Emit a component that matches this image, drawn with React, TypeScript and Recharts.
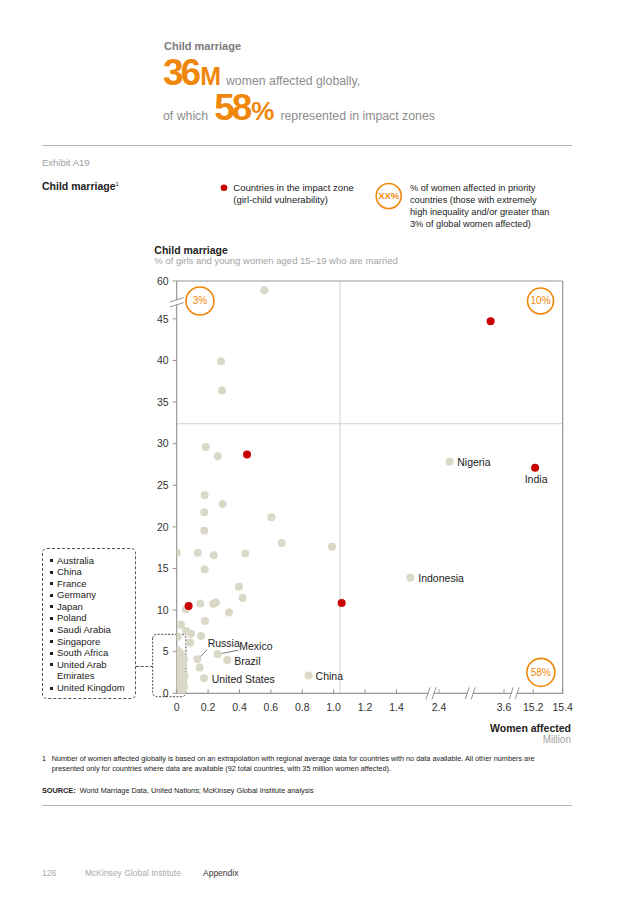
import React from "react";
import {
  ReferenceArea,
  ReferenceDot,
  ReferenceLine,
  Scatter,
  ScatterChart,
  XAxis,
  YAxis,
} from "recharts";

const ORANGE = "rgb(240, 135, 10)";
const RED = "rgb(200, 0, 0)";
const BEIGE = "rgb(218, 216, 198)";
const AXIS = "rgb(150, 150, 150)";
const FONT = '"Liberation Sans", Arial, Helvetica, sans-serif';

// countries outside the impact zone: women affected (million), % married
const OTHER_WOMEN = [
  0.558, 0.282, 0.289, 0.185, 0.261, 0.178, 0.293, 0.176, 0.603, 0.176,
  0.669, 0.989, 0.0, 0.134, 0.236, 0.437, 0.178, 0.397, 0.42, 0.15,
  0.233, 0.25, 0.059, 0.333, 0.027, 0.18, 0.059, 0.091, 0.006, 0.155,
  0.085, 0.131, 0.261, 0.322, 0.146, 0.174, 0.84, 2.468, 1.488,
  0.004, 0.018, 0.034, 0.008, 0.046, 0.024, 0.04, 0.006, 0.03, 0.014,
  0.05, 0.022, 0.042, 0.01, 0.032, 0.004, 0.026, 0.048, 0.016, 0.036,
];
const OTHER_RATE = [
  58.9, 39.9, 36.4, 29.6, 28.5, 23.8, 22.75, 21.75, 21.15, 19.55,
  18.06, 17.6, 16.9, 16.9, 16.6, 16.8, 14.9, 12.8, 11.45, 10.8,
  10.75, 10.9, 10.1, 9.7, 8.25, 8.7, 7.5, 7.15, 6.8, 6.9,
  6.1, 4.1, 4.7, 4.0, 3.1, 1.8, 2.15, 27.84, 13.9,
  5.2, 4.9, 4.6, 4.3, 4.1, 3.8, 3.4, 3.1, 2.7, 2.4,
  2.1, 1.8, 1.5, 1.2, 0.9, 0.6, 0.35, 0.8, 0.1, 0.2,
];
const OTHER_NAMES = [
  "", "", "", "", "", "", "", "", "", "",
  "", "", "", "", "", "", "", "", "", "",
  "", "", "", "", "", "", "", "", "", "",
  "", "Russia", "Mexico", "Brazil", "", "United States", "China", "Nigeria", "Indonesia",
];

// countries in the impact zone
const IMPACT_WOMEN = [0.448, 0.076, 1.051, 3.515, 15.213];
const IMPACT_RATE = [28.7, 10.5, 10.85, 44.7, 27.1];
const IMPACT_NAMES = ["", "", "", "", "India"];

const X_TICKS = [0, 0.2, 0.4, 0.6, 0.8, 1.0, 1.2, 1.4, 2.4, 3.6, 15.2, 15.4];
const Y_TICKS = [0, 5, 10, 15, 20, 25, 30, 35, 40, 45, 60];

const BOX_COUNTRIES = [
  "Australia",
  "China",
  "France",
  "Germany",
  "Japan",
  "Poland",
  "Saudi Arabia",
  "Singapore",
  "South Africa",
  "United Arab Emirates",
  "United Kingdom",
];

// broken x axis: every segment keeps its own offset on the axis
function toAxisX(v: number) {
  if (v < 2) return v;
  if (v < 3) return v - 0.729;
  if (v < 10) return v - 1.515;
  return 2.271 + (v - 15.2) * 0.94;
}

// broken y axis: the jump from ~47 to 60
function toAxisY(v: number) {
  return v > 50 ? v - 10.45 : v;
}

const X_MAX = toAxisX(15.4);
const Y_MAX = toAxisY(60);
const X_BREAKS = [1.62, 1.87, 2.15];
const Y_BREAK = 46.9;

const toPoints = (w: number[], r: number[], n: string[]) =>
  w.map((v, i) => ({ x: toAxisX(v), y: toAxisY(r[i]), name: n[i] || "" }));

const otherPoints = toPoints(OTHER_WOMEN, OTHER_RATE, OTHER_NAMES);
const impactPoints = toPoints(IMPACT_WOMEN, IMPACT_RATE, IMPACT_NAMES);

type LabelPos = { dx: number; dy: number; anchor?: string; line?: number[] };
const LABEL_POS: Record<string, LabelPos> = {
  Nigeria: { dx: 7.6, dy: 4 },
  India: { dx: 1, dy: 15.6, anchor: "middle" },
  Indonesia: { dx: 8, dy: 4 },
  China: { dx: 7, dy: 4.5 },
  "United States": { dx: 7.7, dy: 4.5 },
  Brazil: { dx: 7, dy: 4.5 },
  Russia: { dx: 10.4, dy: -12, line: [3, -2.5, 10, -9.7] },
  Mexico: { dx: 21.6, dy: -4.5, line: [4, -0.7, 20.6, -4] },
};

const dotShape = (fill: string) => (props: any) => {
  const { cx, cy, payload } = props;
  const lab = payload && payload.name ? LABEL_POS[payload.name] : null;
  return (
    <g>
      <circle cx={cx} cy={cy} r={4} fill={fill} />
      {lab && lab.line && (
        <line
          x1={cx + lab.line[0]}
          y1={cy + lab.line[1]}
          x2={cx + lab.line[2]}
          y2={cy + lab.line[3]}
          stroke="#555"
          strokeWidth={0.8}
        />
      )}
      {lab && (
        <text
          x={cx + lab.dx}
          y={cy + lab.dy}
          textAnchor={lab.anchor || "start"}
          fontSize={10.5}
          fill="#222"
          fontFamily={FONT}
        >
          {payload.name}
        </text>
      )}
    </g>
  );
};

const XTick = (props: any) => {
  const { x, y, payload } = props;
  const i = X_TICKS.findIndex((t) => Math.abs(toAxisX(t) - payload.value) < 1e-6);
  const label = i < 0 ? "" : X_TICKS[i] === 0 ? "0" : X_TICKS[i].toFixed(1);
  return (
    <g>
      <line x1={x} x2={x} y1={y} y2={y - 4} stroke={AXIS} />
      <text x={x} y={y + 18} textAnchor="middle" fontSize={10.5} fill="#333" fontFamily={FONT}>
        {label}
      </text>
    </g>
  );
};

const YTick = (props: any) => {
  const { x, y, payload } = props;
  const i = Y_TICKS.findIndex((t) => Math.abs(toAxisY(t) - payload.value) < 1e-6);
  return (
    <g>
      <line x1={x - 4} x2={x} y1={y} y2={y} stroke={AXIS} />
      <text x={x - 8} y={y + 3.8} textAnchor="end" fontSize={10.5} fill="#333" fontFamily={FONT}>
        {i < 0 ? "" : String(Y_TICKS[i])}
      </text>
    </g>
  );
};

const XBreak = (props: any) => {
  const { cx, cy } = props;
  return (
    <g>
      <rect x={cx - 2.5} y={cy - 1.5} width={5} height={3} fill="#fff" />
      <line x1={cx - 5} y1={cy + 6} x2={cx - 1} y2={cy - 6} stroke={AXIS} />
      <line x1={cx + 1} y1={cy + 6} x2={cx + 5} y2={cy - 6} stroke={AXIS} />
    </g>
  );
};

const YBreak = (props: any) => {
  const { cx, cy } = props;
  return (
    <g>
      <rect x={cx - 1.5} y={cy - 3} width={3} height={4.5} fill="#fff" />
      <line x1={cx - 7} y1={cy - 1} x2={cx + 7} y2={cy - 5.5} stroke={AXIS} />
      <line x1={cx - 7} y1={cy + 4} x2={cx + 7} y2={cy - 0.5} stroke={AXIS} />
    </g>
  );
};

const badge = (text: string, r: number) => (props: any) => (
  <g>
    <circle cx={props.cx} cy={props.cy} r={r} fill="#fff" stroke={ORANGE} strokeWidth={1.6} />
    <text
      x={props.cx}
      y={props.cy + 3.5}
      textAnchor="middle"
      fontSize={10}
      fill={ORANGE}
      fontFamily={FONT}
    >
      {text}
    </text>
  </g>
);

const abs = (left: number, top: number, extra: React.CSSProperties = {}): React.CSSProperties => ({
  position: "absolute",
  left,
  top,
  whiteSpace: "nowrap",
  ...extra,
});

export default function App() {
  return (
    <div
      style={{
        position: "absolute",
        left: 0,
        top: 0,
        width: 636,
        height: 900,
        background: "#fff",
        fontFamily: FONT,
        color: "#222",
      }}
    >
      <div style={{ position: "absolute", left: 0, top: 0 }}>
        <ScatterChart
          width={636}
          height={760}
          margin={{ top: 281, right: 73.3, bottom: 36.7, left: 136.7 }}
        >
          <XAxis
            type="number"
            dataKey="x"
            domain={[0, X_MAX]}
            ticks={X_TICKS.map(toAxisX)}
            interval={0}
            allowDataOverflow
            height={30}
            tickSize={0}
            tickMargin={0}
            tickLine={false}
            tick={<XTick />}
            axisLine={{ stroke: AXIS, strokeWidth: 1.2 }}
          />
          <YAxis
            type="number"
            dataKey="y"
            domain={[0, Y_MAX]}
            ticks={Y_TICKS.map(toAxisY)}
            interval={0}
            allowDataOverflow
            width={40}
            tickSize={0}
            tickMargin={0}
            tickLine={false}
            tick={<YTick />}
            axisLine={{ stroke: AXIS, strokeWidth: 1.2 }}
          />
          <ReferenceLine x={toAxisX(1.04)} stroke="rgb(210, 210, 210)" ifOverflow="visible" />
          <ReferenceLine y={toAxisY(32.4)} stroke="rgb(210, 210, 210)" ifOverflow="visible" />
          <ReferenceLine y={Y_MAX} stroke={AXIS} strokeWidth={1.2} ifOverflow="visible" />
          <ReferenceLine x={X_MAX} stroke={AXIS} strokeWidth={1.2} ifOverflow="visible" />
          <ReferenceArea
            x1={-0.153}
            x2={0.059}
            y1={-0.41}
            y2={7.09}
            fill="none"
            fillOpacity={0}
            stroke="#444"
            strokeDasharray="2 1.5"
            radius={4}
            ifOverflow="visible"
          />
          <Scatter data={otherPoints} isAnimationActive={false} shape={dotShape(BEIGE)} />
          <Scatter data={impactPoints} isAnimationActive={false} shape={dotShape(RED)} />
          {X_BREAKS.map((b) => (
            <ReferenceDot key={b} x={b} y={0} r={1} ifOverflow="visible" shape={XBreak} />
          ))}
          <ReferenceDot x={0} y={Y_BREAK} r={1} ifOverflow="visible" shape={YBreak} />
          <ReferenceDot x={0.148} y={47.15} r={14} ifOverflow="visible" shape={badge("3%", 14)} />
          <ReferenceDot x={2.318} y={47.15} r={13} ifOverflow="visible" shape={badge("10%", 13)} />
          <ReferenceDot x={2.32} y={2.52} r={14} ifOverflow="visible" shape={badge("58%", 14)} />
        </ScatterChart>
      </div>

      {/* headline */}
      <div style={abs(164, 40, { fontSize: 11, fontWeight: 700, color: "#7a7a7a" })}>
        Child marriage
      </div>
      <div style={abs(163, 53.7, { display: "flex", alignItems: "baseline", lineHeight: 1 })}>
        <span style={{ fontSize: 37, fontWeight: 700, color: ORANGE, letterSpacing: -3 }}>36</span>
        <span style={{ fontSize: 25, fontWeight: 700, color: ORANGE, marginLeft: 2 }}>M</span>
        <span style={{ fontSize: 12.3, color: "#8d8d8d", marginLeft: 5 }}>women affected globally,</span>
      </div>
      <div style={abs(163, 89.4, { display: "flex", alignItems: "baseline", lineHeight: 1 })}>
        <span style={{ fontSize: 12.3, color: "#8d8d8d", marginRight: 6 }}>of which</span>
        <span style={{ fontSize: 37, fontWeight: 700, color: ORANGE, letterSpacing: -3 }}>58</span>
        <span style={{ fontSize: 26, fontWeight: 700, color: ORANGE, marginLeft: 2 }}>%</span>
        <span style={{ fontSize: 12.3, color: "#8d8d8d", marginLeft: 6 }}>
          represented in impact zones
        </span>
      </div>
      <div style={abs(42, 144.5, { width: 530, height: 1.5, background: "#b5b5b5" })} />

      {/* exhibit heading and legend */}
      <div style={abs(42, 157, { fontSize: 9.5, color: "#a0a0a0" })}>Exhibit A19</div>
      <div style={abs(42, 180, { fontSize: 10.5, fontWeight: 700 })}>
        Child marriage<sup style={{ fontSize: 6, fontWeight: 400 }}>1</sup>
      </div>
      <svg style={abs(210, 175)} width={200} height={40}>
        <circle cx={14} cy={12.7} r={3.3} fill={RED} />
        <circle cx={178.7} cy={21} r={12.5} fill="#fff" stroke={ORANGE} strokeWidth={1.6} />
        <text x={178.7} y={24.3} textAnchor="middle" fontSize={9.5} fontWeight={700} fill={ORANGE} fontFamily={FONT}>
          XX%
        </text>
      </svg>
      <div style={abs(233.3, 181.5, { fontSize: 9.5, lineHeight: "12.3px" })}>
        Countries in the impact zone
        <br />
        (girl-child vulnerability)
      </div>
      <div style={abs(410, 181.5, { fontSize: 9.2, lineHeight: "12.2px" })}>
        % of women affected in priority
        <br />
        countries (those with extremely
        <br />
        high inequality and/or greater than
        <br />
        3% of global women affected)
      </div>

      {/* chart titles */}
      <div style={abs(154.3, 243.5, { fontSize: 10.5, fontWeight: 700 })}>Child marriage</div>
      <div style={abs(154.3, 254.5, { fontSize: 9.5, color: "#a3a3a3" })}>
        % of girls and young women aged 15–19 who are married
      </div>
      <div style={abs(0, 722, { width: 571, textAlign: "right", fontSize: 10.5, fontWeight: 700 })}>
        Women affected
      </div>
      <div style={abs(0, 733.5, { width: 571, textAlign: "right", fontSize: 10, color: "#a3a3a3" })}>
        Million
      </div>

      {/* countries hidden in the corner cluster */}
      <div
        style={{
          position: "absolute",
          left: 42,
          top: 548,
          width: 94,
          height: 151,
          boxSizing: "border-box",
          border: "1px dashed #555",
          borderRadius: 5,
          padding: "5.5px 4px 0 7px",
          fontSize: 9.5,
          lineHeight: "11.6px",
        }}
      >
        {BOX_COUNTRIES.map((c) => (
          <div key={c} style={{ display: "flex" }}>
            <span
              style={{
                flex: "0 0 auto",
                width: 3,
                height: 3,
                background: "#222",
                marginTop: 4.5,
                marginRight: 4,
              }}
            />
            <span>{c}</span>
          </div>
        ))}
      </div>
      <div style={abs(136, 666, { width: 16.7, height: 0, borderTop: "1px dashed #555" })} />

      {/* footnotes */}
      <div style={abs(42, 754, { fontSize: 7.3, lineHeight: "10px", color: "#222", display: "flex" })}>
        <span style={{ width: 9.7 }}>1</span>
        <span>
          Number of women affected globally is based on an extrapolation with regional average data for
          countries with no data available. All other numbers are
          <br />
          presented only for countries where data are available (92 total countries, with 35 million women
          affected).
        </span>
      </div>
      <div style={abs(42, 786, { fontSize: 7.3, color: "#222" })}>
        <b>SOURCE:</b>&nbsp; World Marriage Data, United Nations; McKinsey Global Institute analysis
      </div>
      <div style={abs(42, 804.5, { width: 530, height: 1.5, background: "#b5b5b5" })} />
      <div style={abs(42, 868, { fontSize: 8.5, color: "#aaa" })}>126</div>
      <div style={abs(85, 868, { fontSize: 8.5, color: "#aaa" })}>McKinsey Global Institute</div>
      <div style={abs(203, 868, { fontSize: 8.5, color: "#333" })}>Appendix</div>
    </div>
  );
}
